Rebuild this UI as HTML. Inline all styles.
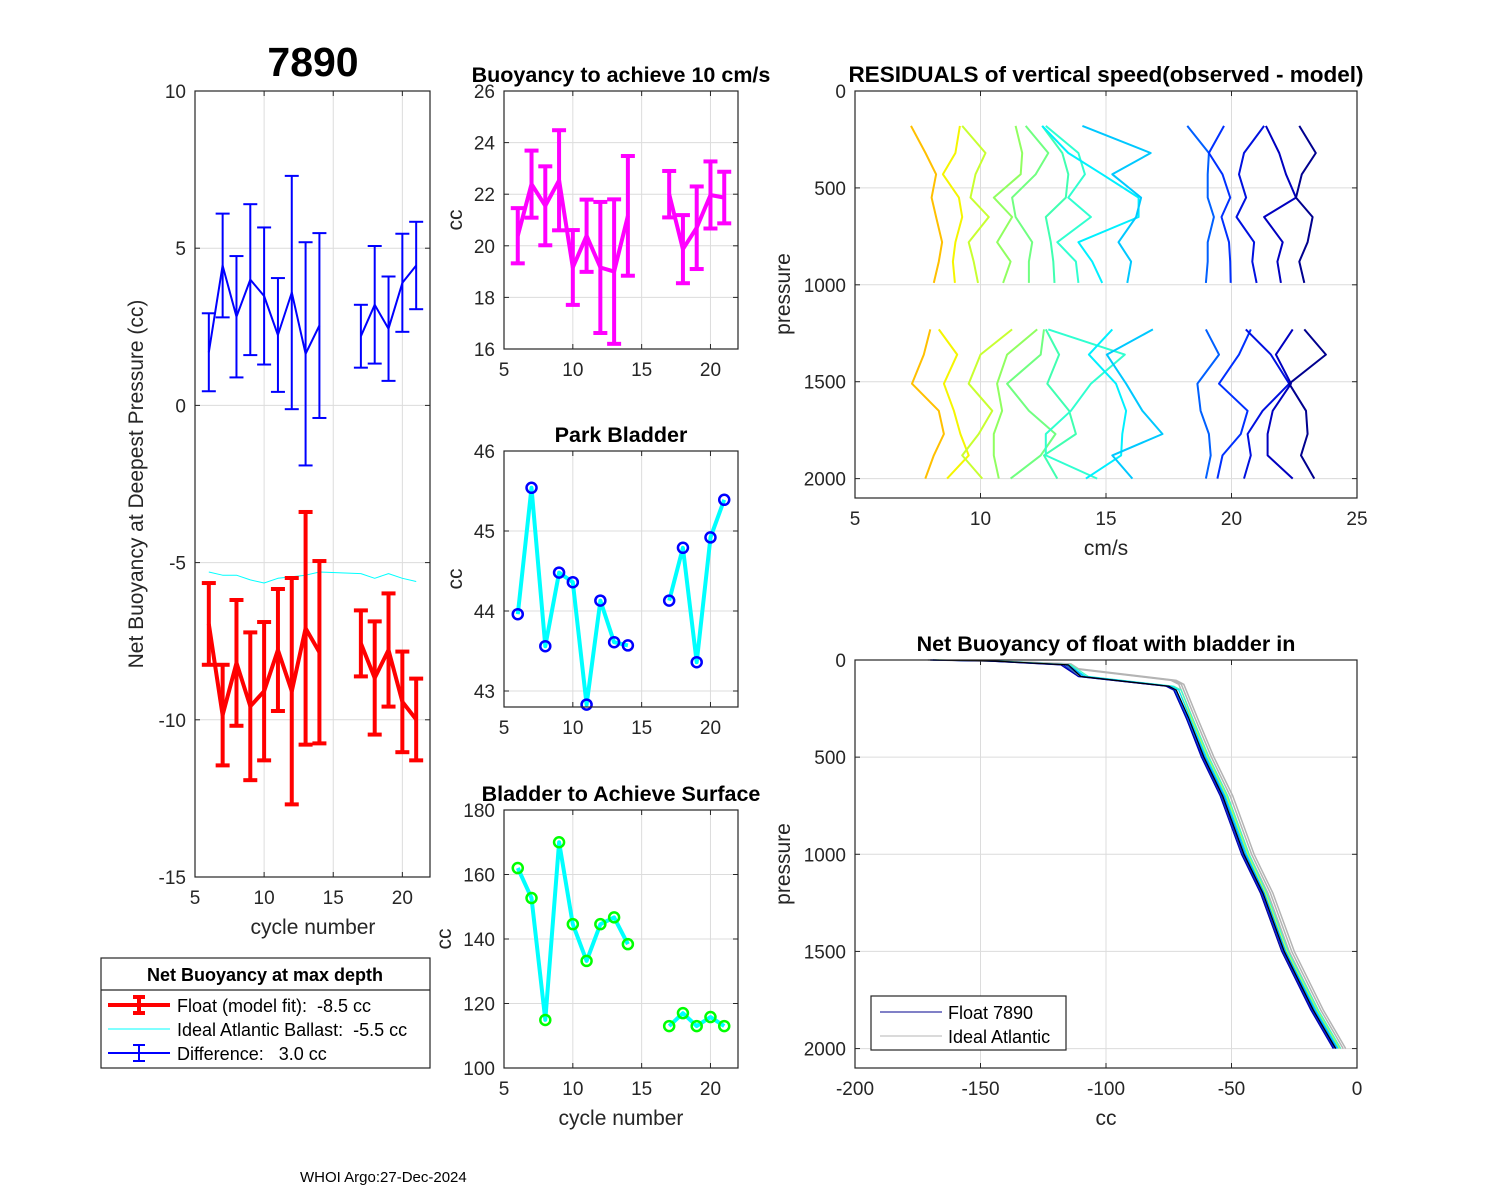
<!DOCTYPE html>
<html><head><meta charset="utf-8"><style>
html,body{margin:0;padding:0;background:#fff;}
svg{display:block;font-family:"Liberation Sans",Arial,sans-serif;}
text{white-space:pre;}
</style></head><body>
<svg id="fig" width="1500" height="1200" viewBox="0 0 1500 1200" xmlns="http://www.w3.org/2000/svg">
<rect x="0" y="0" width="1500" height="1200" fill="#fff"/>
</svg>
<script>
// ---------- data ----------
const cycles = [6,7,8,9,10,11,12,13,14,17,18,19,20,21];
const floatVals = [-6.95,-9.85,-8.19,-9.57,-9.09,-7.78,-9.09,-7.09,-7.85,-7.57,-8.67,-7.78,-9.43,-9.99];
const floatErr = [1.3,1.6,2.0,2.35,2.2,1.94,3.6,3.7,2.9,1.05,1.8,1.8,1.6,1.3];
const idealVals = [-5.3,-5.4,-5.4,-5.55,-5.65,-5.5,-5.45,-5.4,-5.3,-5.35,-5.5,-5.35,-5.5,-5.6];
const diffVals = [1.69,4.45,2.82,4.0,3.48,2.24,3.59,1.64,2.54,2.2,3.2,2.44,3.9,4.45];
const diffErr = [1.24,1.65,1.93,2.4,2.18,1.81,3.71,3.55,2.94,1.0,1.87,1.66,1.56,1.39];
const b10Vals = [20.39,22.39,21.55,22.54,19.16,20.39,19.16,19.0,21.16,22.0,19.87,20.7,21.97,21.87];
const b10Err = [1.07,1.3,1.53,1.94,1.45,1.4,2.54,2.8,2.32,0.9,1.32,1.6,1.3,1.0];
const parkVals = [43.96,45.54,43.56,44.48,44.36,42.83,44.13,43.61,43.57,44.13,44.79,43.36,44.92,45.39];
const surfVals = [162,152.7,114.9,170,144.6,133.2,144.6,146.7,138.4,113,117,113,115.8,113];
const xTicksCycle = [5,10,15,20];
const yTicksNet = [-15,-10,-5,0,5,10];
const yTicks10 = [16,18,20,22,24,26];
const yTicksPark = [43,44,45,46];
const yTicksSurf = [100,120,140,160,180];
// residuals
const resPTop = [180,320,430,550,650,780,880,990];
const resPBot = [1230,1360,1510,1650,1770,1880,2000];
const resColors = ['#ffc000','#f5f500','#c8ff30','#90ff60','#70ff80','#40ffb0','#30ffd0','#00f0ff','#00c8ff','#0060ff','#0030ff','#0010e0','#0000c0','#00008f'];
const resTop = [
 [7.23,7.81,8.23,8.05,8.23,8.47,8.34,8.14],
 [9.18,9.0,8.5,9.14,9.27,9.0,8.9,8.98],
 [9.27,10.2,9.8,9.6,10.33,9.53,9.73,9.9],
 [11.4,11.66,11.6,10.53,11.26,10.66,11.2,10.9],
 [11.8,12.7,12.2,11.26,11.4,12.06,11.93,11.93],
 [12.46,13.26,13.5,13.4,12.6,12.8,12.9,12.95],
 [12.6,13.9,14.16,13.5,14.4,13.06,13.8,13.9],
 [12.46,13.5,14.85,16.3,16.3,13.9,14.45,14.85],
 [14.06,16.78,15.25,16.4,16.2,15.5,16.0,15.85],
 [18.24,19.1,19.05,19.05,19.3,19.05,19.05,18.98],
 [19.7,19.1,19.64,19.95,19.6,19.9,19.95,19.97],
 [21.3,20.5,20.3,20.58,20.2,20.9,20.83,21.0],
 [21.37,21.9,22.17,22.57,21.3,22.04,21.83,21.97],
 [22.7,23.36,22.8,22.57,23.23,23.03,22.7,22.9]
];
const resBot = [
 [8.0,7.74,7.27,8.34,8.54,8.14,7.8],
 [8.34,9.07,8.54,8.94,9.2,9.53,8.67],
 [11.26,10.0,9.53,10.47,9.93,9.27,10.07],
 [12.26,11.06,10.66,10.86,10.53,10.53,10.73],
 [12.53,12.4,11.06,11.93,12.99,12.4,11.2],
 [12.6,13.13,12.66,13.53,13.8,12.53,13.06],
 [12.7,15.75,14.4,13.6,12.6,12.6,14.65],
 [15.25,14.32,15.4,15.8,15.65,15.6,14.2],
 [16.87,15.03,15.8,16.45,17.25,15.25,16.05],
 [18.98,19.5,18.64,18.77,19.1,19.17,18.98],
 [20.77,20.3,19.5,20.64,20.37,19.64,19.44],
 [20.57,21.57,22.3,21.24,20.64,20.77,20.5],
 [22.44,21.77,22.37,21.64,21.44,21.44,22.44],
 [22.9,23.76,22.3,22.97,23.03,22.77,23.3]
];
// net buoyancy profiles
const profP = [0,5,25,85,135,155,300,500,700,1000,1200,1500,1800,2000];
const profColors = ['#ffe000','#c0ff40','#40ffc0','#00e0ff','#00a0ff','#0050ff','#0020e0','#0000b0','#000000'];
const profCC = [
 [-168,-146,-117,-110,-76,-73,-68,-61.5,-54,-45.5,-38.5,-30,-18,-9],
 [-167,-144,-116,-108,-74,-71,-66,-59.5,-52,-43.5,-36.5,-28,-16,-7],
 [-166,-143,-114,-107,-73,-70,-65.5,-59,-51.5,-43,-36,-27.5,-15.5,-6.5],
 [-168,-145,-115,-108,-74,-71,-66.5,-60,-52.5,-44,-37,-28.5,-16.5,-7.5],
 [-169,-145,-115,-109,-75,-72,-67,-60.5,-53,-44.5,-37,-28.5,-17,-8],
 [-169,-146,-116,-110,-75,-72.5,-67.5,-61,-53.5,-45,-37.5,-29,-17.5,-8.5],
 [-170,-147,-117,-111,-76,-73,-68,-61.5,-54,-45.5,-38,-29.5,-18,-9],
 [-170,-147,-118,-111,-76,-73,-68,-62,-54.5,-46,-38.5,-30,-18.5,-9.5],
 [-169,-145,-115,-110,-75,-72,-67,-61,-53.5,-45,-37.5,-29,-17.5,-8.5]
];
const idealP = [0,5,20,45,105,125,300,500,700,1000,1200,1500,1800,2000];
const idealCC = [
 [-170,-145,-115,-112,-73,-70,-64.5,-58,-50.5,-42,-34.5,-26,-14.5,-5.5],
 [-169,-144,-114,-111,-72,-69,-63.5,-57,-49.5,-41,-33.5,-25,-13.5,-4.5],
 [-171,-146,-116,-113,-74,-71,-65.5,-59,-51.5,-43,-35.5,-27,-15.5,-6.5]
];

// ---------- helpers ----------
const NS='http://www.w3.org/2000/svg';
const fig=document.getElementById('fig');
function mk(tag,attrs,parent){const e=document.createElementNS(NS,tag);for(const k in attrs)e.setAttribute(k,attrs[k]);(parent||fig).appendChild(e);return e;}
function txt(s,x,y,size,opts){const e=mk('text',Object.assign({x:x,y:y,'font-size':size,fill:'#000'},opts||{}));e.textContent=s;return e;}

function makeAxes(name,box,xlim,ylim,xt,yt,rev){
  const sx=v=>box.x0+(v-xlim[0])/(xlim[1]-xlim[0])*(box.x1-box.x0);
  const sy=rev? v=>box.y0+(v-ylim[0])/(ylim[1]-ylim[0])*(box.y1-box.y0)
              : v=>box.y1-(v-ylim[0])/(ylim[1]-ylim[0])*(box.y1-box.y0);
  const g=mk('g',{});
  
  
  mk('rect',{x:box.x0,y:box.y0,width:box.x1-box.x0,height:box.y1-box.y0,fill:'#fff'},g);
  xt.forEach(v=>{const x=sx(v);
    if(x>box.x0+1&&x<box.x1-1) mk('line',{x1:x,x2:x,y1:box.y0,y2:box.y1,stroke:'#dcdcdc','stroke-width':1},g);
    mk('line',{x1:x,x2:x,y1:box.y1,y2:box.y1-5,stroke:'#262626'},g);
    mk('line',{x1:x,x2:x,y1:box.y0,y2:box.y0+5,stroke:'#262626'},g);
    const t=txt(String(v),x,box.y1+27,19,{'text-anchor':'middle',fill:'#262626'});g.appendChild(t);
    
    
  });
  yt.forEach(v=>{const y=sy(v);
    if(y>box.y0+1&&y<box.y1-1) mk('line',{x1:box.x0,x2:box.x1,y1:y,y2:y,stroke:'#dcdcdc','stroke-width':1},g);
    mk('line',{x1:box.x0,x2:box.x0+5,y1:y,y2:y,stroke:'#262626'},g);
    mk('line',{x1:box.x1,x2:box.x1-5,y1:y,y2:y,stroke:'#262626'},g);
    const t=txt(String(v),box.x0-9,y+7,19,{'text-anchor':'end',fill:'#262626'});g.appendChild(t);
    
    
  });
  const frame=mk('rect',{x:box.x0,y:box.y0,width:box.x1-box.x0,height:box.y1-box.y0,fill:'none',stroke:'#262626','stroke-width':1.2});
  return {sx,sy,g,frame};
}
function poly(xs,ys,ax,color,w,name){
  const pts=xs.map((x,i)=>ax.sx(x).toFixed(1)+','+ax.sy(ys[i]).toFixed(1)).join(' ');
  const p=mk('polyline',{points:pts,fill:'none',stroke:color,'stroke-width':w,'stroke-linejoin':'round'});
  
  
  return p;
}
function segs(xs,ys,ax,color,w,name){
  let a=[],b=[];
  xs.forEach((x,i)=>{ if(i>0&&x-xs[i-1]>1){poly(a,b,ax,color,w,name);a=[];b=[];} a.push(x);b.push(ys[i]); });
  poly(a,b,ax,color,w,name);
}
function errbars(xs,ys,es,ax,color,w,name){
  xs.forEach((x,i)=>{const px=ax.sx(x),t=ax.sy(ys[i]+es[i]),b=ax.sy(ys[i]-es[i]);
    const g=mk('g',{stroke:color,'stroke-width':w});
    
    
    mk('line',{x1:px,x2:px,y1:t,y2:b},g);
    mk('line',{x1:px-7,x2:px+7,y1:t,y2:t},g);
    mk('line',{x1:px-7,x2:px+7,y1:b,y2:b},g);
  });
}
function markers(xs,ys,ax,color,name){
  xs.forEach((x,i)=>{const c=mk('circle',{cx:ax.sx(x),cy:ax.sy(ys[i]),r:5,fill:'none',stroke:color,'stroke-width':2.5});
    
    
  });
}

// ---------- panel 1 ----------
const a1=makeAxes('net-buoyancy-axes',{x0:195,y0:91,x1:430,y1:877},[5,22],[-15,10],xTicksCycle,yTicksNet,false);
errbars(cycles,diffVals,diffErr,a1,'#0000ff',2,'difference-errorbar');
segs(cycles,diffVals,a1,'#0000ff',2,'difference-line');
poly(cycles,idealVals,a1,'#00ffff',1,'ideal-ballast-line');
errbars(cycles,floatVals,floatErr,a1,'#ff0000',4,'float-errorbar');
segs(cycles,floatVals,a1,'#ff0000',4,'float-line');
fig.appendChild(a1.frame);
let t;
t=txt('7890',313,76,41,{'text-anchor':'middle','font-weight':'bold'});


t=txt('cycle number',313,934,21,{'text-anchor':'middle',fill:'#262626'});


t=txt('Net Buoyancy at Deepest Pressure (cc)',0,0,21,{'text-anchor':'middle',fill:'#262626',transform:'translate(143,484) rotate(-90)'});



// legend 1
const lg=mk('g',{});


mk('rect',{x:101,y:958,width:329,height:110,fill:'#fff',stroke:'#262626','stroke-width':1.2},lg);
mk('line',{x1:101,x2:430,y1:990,y2:990,stroke:'#262626','stroke-width':1.2},lg);
lg.appendChild(txt('Net Buoyancy at max depth',265,981,18,{'text-anchor':'middle','font-weight':'bold'}));
mk('line',{x1:108,x2:170,y1:1005,y2:1005,stroke:'#f00','stroke-width':4},lg);
mk('line',{x1:139,x2:139,y1:997,y2:1013,stroke:'#f00','stroke-width':4},lg);
mk('line',{x1:133,x2:145,y1:997,y2:997,stroke:'#f00','stroke-width':4},lg);
mk('line',{x1:133,x2:145,y1:1013,y2:1013,stroke:'#f00','stroke-width':4},lg);
lg.appendChild(txt('Float (model fit):  -8.5 cc',177,1012,18));
mk('line',{x1:108,x2:170,y1:1029,y2:1029,stroke:'#0ff','stroke-width':1},lg);
lg.appendChild(txt('Ideal Atlantic Ballast:  -5.5 cc',177,1036,18));
mk('line',{x1:108,x2:170,y1:1053,y2:1053,stroke:'#00f','stroke-width':2},lg);
mk('line',{x1:139,x2:139,y1:1045,y2:1061,stroke:'#00f','stroke-width':2},lg);
mk('line',{x1:133,x2:145,y1:1045,y2:1045,stroke:'#00f','stroke-width':2},lg);
mk('line',{x1:133,x2:145,y1:1061,y2:1061,stroke:'#00f','stroke-width':2},lg);
lg.appendChild(txt('Difference:   3.0 cc',177,1060,18));

// ---------- panel 2 ----------
const a2=makeAxes('buoyancy-10cms-axes',{x0:504,y0:91,x1:738,y1:349},[5,22],[16,26],xTicksCycle,yTicks10,false);
errbars(cycles,b10Vals,b10Err,a2,'#ff00ff',4,'buoyancy-errorbar');
segs(cycles,b10Vals,a2,'#ff00ff',4,'buoyancy-line');
fig.appendChild(a2.frame);
t=txt('Buoyancy to achieve 10 cm/s',621,82,21.5,{'text-anchor':'middle','font-weight':'bold'});


t=txt('cc',0,0,21,{'text-anchor':'middle',fill:'#262626',transform:'translate(462,220) rotate(-90)'});



// ---------- panel 3 ----------
const a3=makeAxes('park-bladder-axes',{x0:504,y0:451,x1:738,y1:707},[5,22],[42.8,46],xTicksCycle,yTicksPark,false);
segs(cycles,parkVals,a3,'#00ffff',4,'park-bladder-line');
markers(cycles,parkVals,a3,'#0000ff','park-bladder-marker');
fig.appendChild(a3.frame);
t=txt('Park Bladder',621,442,21.5,{'text-anchor':'middle','font-weight':'bold'});


t=txt('cc',0,0,21,{'text-anchor':'middle',fill:'#262626',transform:'translate(462,579) rotate(-90)'});



// ---------- panel 4 ----------
const a4=makeAxes('bladder-surface-axes',{x0:504,y0:810,x1:738,y1:1068},[5,22],[100,180],xTicksCycle,yTicksSurf,false);
segs(cycles,surfVals,a4,'#00ffff',4,'bladder-surface-line');
markers(cycles,surfVals,a4,'#00ff00','bladder-surface-marker');
fig.appendChild(a4.frame);
t=txt('Bladder to Achieve Surface',621,801,21.5,{'text-anchor':'middle','font-weight':'bold'});


t=txt('cc',0,0,21,{'text-anchor':'middle',fill:'#262626',transform:'translate(451,939) rotate(-90)'});


t=txt('cycle number',621,1125,21,{'text-anchor':'middle',fill:'#262626'});



// ---------- panel 5 residuals ----------
const a5=makeAxes('residuals-axes',{x0:855,y0:91,x1:1357,y1:498},[5,25],[0,2100],[5,10,15,20,25],[0,500,1000,1500,2000],true);
resTop.forEach((xs,i)=>poly(xs,resPTop,a5,resColors[i],2,'residual-profile-top'));
resBot.forEach((xs,i)=>poly(xs,resPBot,a5,resColors[i],2,'residual-profile-bottom'));
fig.appendChild(a5.frame);
t=txt('RESIDUALS of vertical speed(observed - model)',1106,82,22.5,{'text-anchor':'middle','font-weight':'bold'});


t=txt('cm/s',1106,555,21,{'text-anchor':'middle',fill:'#262626'});


t=txt('pressure',0,0,21,{'text-anchor':'middle',fill:'#262626',transform:'translate(790,294) rotate(-90)'});



// ---------- panel 6 net buoyancy profiles ----------
const a6=makeAxes('bladder-in-axes',{x0:855,y0:660,x1:1357,y1:1068},[-200,0],[0,2100],[-200,-150,-100,-50,0],[0,500,1000,1500,2000],true);
idealCC.forEach(xs=>poly(xs,idealP,a6,'#b4b4b4',1.5,'ideal-profile'));
profCC.forEach((xs,i)=>poly(xs,profP,a6,profColors[i],1.2,'float-profile'));
fig.appendChild(a6.frame);
t=txt('Net Buoyancy of float with bladder in',1106,651,21.5,{'text-anchor':'middle','font-weight':'bold'});


t=txt('cc',1106,1125,21,{'text-anchor':'middle',fill:'#262626'});


t=txt('pressure',0,0,21,{'text-anchor':'middle',fill:'#262626',transform:'translate(790,864) rotate(-90)'});


const lg2=mk('g',{});


mk('rect',{x:871,y:996,width:195,height:54,fill:'#fff',stroke:'#262626','stroke-width':1.2},lg2);
mk('line',{x1:880,x2:942,y1:1012,y2:1012,stroke:'#00008f','stroke-width':1},lg2);
lg2.appendChild(txt('Float 7890',948,1019,18));
mk('line',{x1:880,x2:942,y1:1036,y2:1036,stroke:'#b4b4b4','stroke-width':1},lg2);
lg2.appendChild(txt('Ideal Atlantic',948,1043,18));

t=txt('WHOI Argo:27-Dec-2024',300,1182,15);


</script>
</body></html>
